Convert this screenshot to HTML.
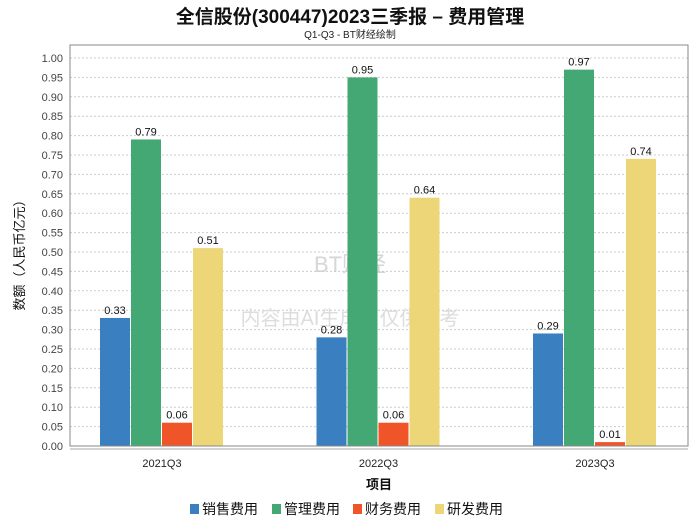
<!DOCTYPE html>
<html><head><meta charset="utf-8">
<style>
body{margin:0;background:#fff;}
svg text{font-family:"Liberation Sans","Noto Sans CJK SC",sans-serif;}
</style></head>
<body>
<svg width="700" height="524">
<text x="350" y="23" text-anchor="middle" font-size="19" font-weight="bold" fill="#111">全信股份(300447)2023三季报 – 费用管理</text>
<text x="350" y="38" text-anchor="middle" font-size="10" fill="#222">Q1-Q3 - BT财经绘制</text>
<g id="grid"></g>
<text x="350" y="272" text-anchor="middle" font-size="22" fill="#ccc" opacity="0.8">BT财经</text>
<text x="350" y="325" text-anchor="middle" font-size="20" fill="#ddd">内容由AI生成，仅供参考</text>
<g id="bars"></g>
<rect x="70" y="45" width="618" height="401" fill="none" stroke="#888"/>
<line x1="70" y1="449" x2="688" y2="449" stroke="#aaa"/>
<g id="axis"></g>
<text transform="translate(24,252) rotate(-90)" text-anchor="middle" font-size="13" fill="#111">数额（人民币亿元）</text>
<text x="379" y="489" text-anchor="middle" font-size="13" font-weight="bold" fill="#111">项目</text>
<g id="legend"></g>
</svg>
<script>
const categories=["2021Q3","2022Q3","2023Q3"];
const seriesNames=["销售费用","管理费用","财务费用","研发费用"];
const seriesColors=["#3a7fbf","#44a874","#ef5528","#ecd677"];
const sales=[0.33,0.28,0.29];
const admin=[0.79,0.95,0.97];
const finance=[0.06,0.06,0.01];
const rnd=[0.51,0.64,0.74];
const yTicks=[0,0.05,0.1,0.15,0.2,0.25,0.3,0.35,0.4,0.45,0.5,0.55,0.6,0.65,0.7,0.75,0.8,0.85,0.9,0.95,1.0];
const series=[sales,admin,finance,rnd];
const NS="http://www.w3.org/2000/svg";
function y(v){return 446-v*388;}
function xc(i){return 162+i*216.5;}
function mk(t,a,p){const e=document.createElementNS(NS,t);for(const k in a)e.setAttribute(k,a[k]);p.appendChild(e);return e;}
const grid=document.getElementById('grid'),axis=document.getElementById('axis'),bars=document.getElementById('bars'),legend=document.getElementById('legend');
yTicks.forEach(v=>{
  const l=mk('line',{x1:70,x2:688,y1:y(v),y2:y(v),stroke:'#ccc','stroke-dasharray':'2,2'},grid);
  
  
  const t=mk('text',{x:63,y:y(v)+4,'text-anchor':'end','font-size':11,fill:'#444'},axis);
  t.textContent=v.toFixed(2);
  
  
});
categories.forEach((c,i)=>{
  const t=mk('text',{x:xc(i),y:467,'text-anchor':'middle','font-size':11,fill:'#222'},axis);
  t.textContent=c;
  
  
  series.forEach((s,j)=>{
    const x0=xc(i)-62+j*31;
    const r=mk('rect',{x:x0,y:y(s[i]),width:30,height:446-y(s[i]),fill:seriesColors[j]},bars);
    
    
    const lb=mk('text',{x:x0+15,y:y(s[i])-4,'text-anchor':'middle','font-size':11,fill:'#111'},bars);
    lb.textContent=s[i].toFixed(2);
    
    
  });
});
const lx=[190,272,353,435];
seriesNames.forEach((n,j)=>{
  const g=mk('g',{},legend);
  
  
  mk('rect',{x:lx[j],y:504,width:9,height:10,fill:seriesColors[j]},g);
  const t=mk('text',{x:lx[j]+12,y:514,'font-size':14,fill:'#111'},g);
  t.textContent=n;
});
</script>
</body></html>
